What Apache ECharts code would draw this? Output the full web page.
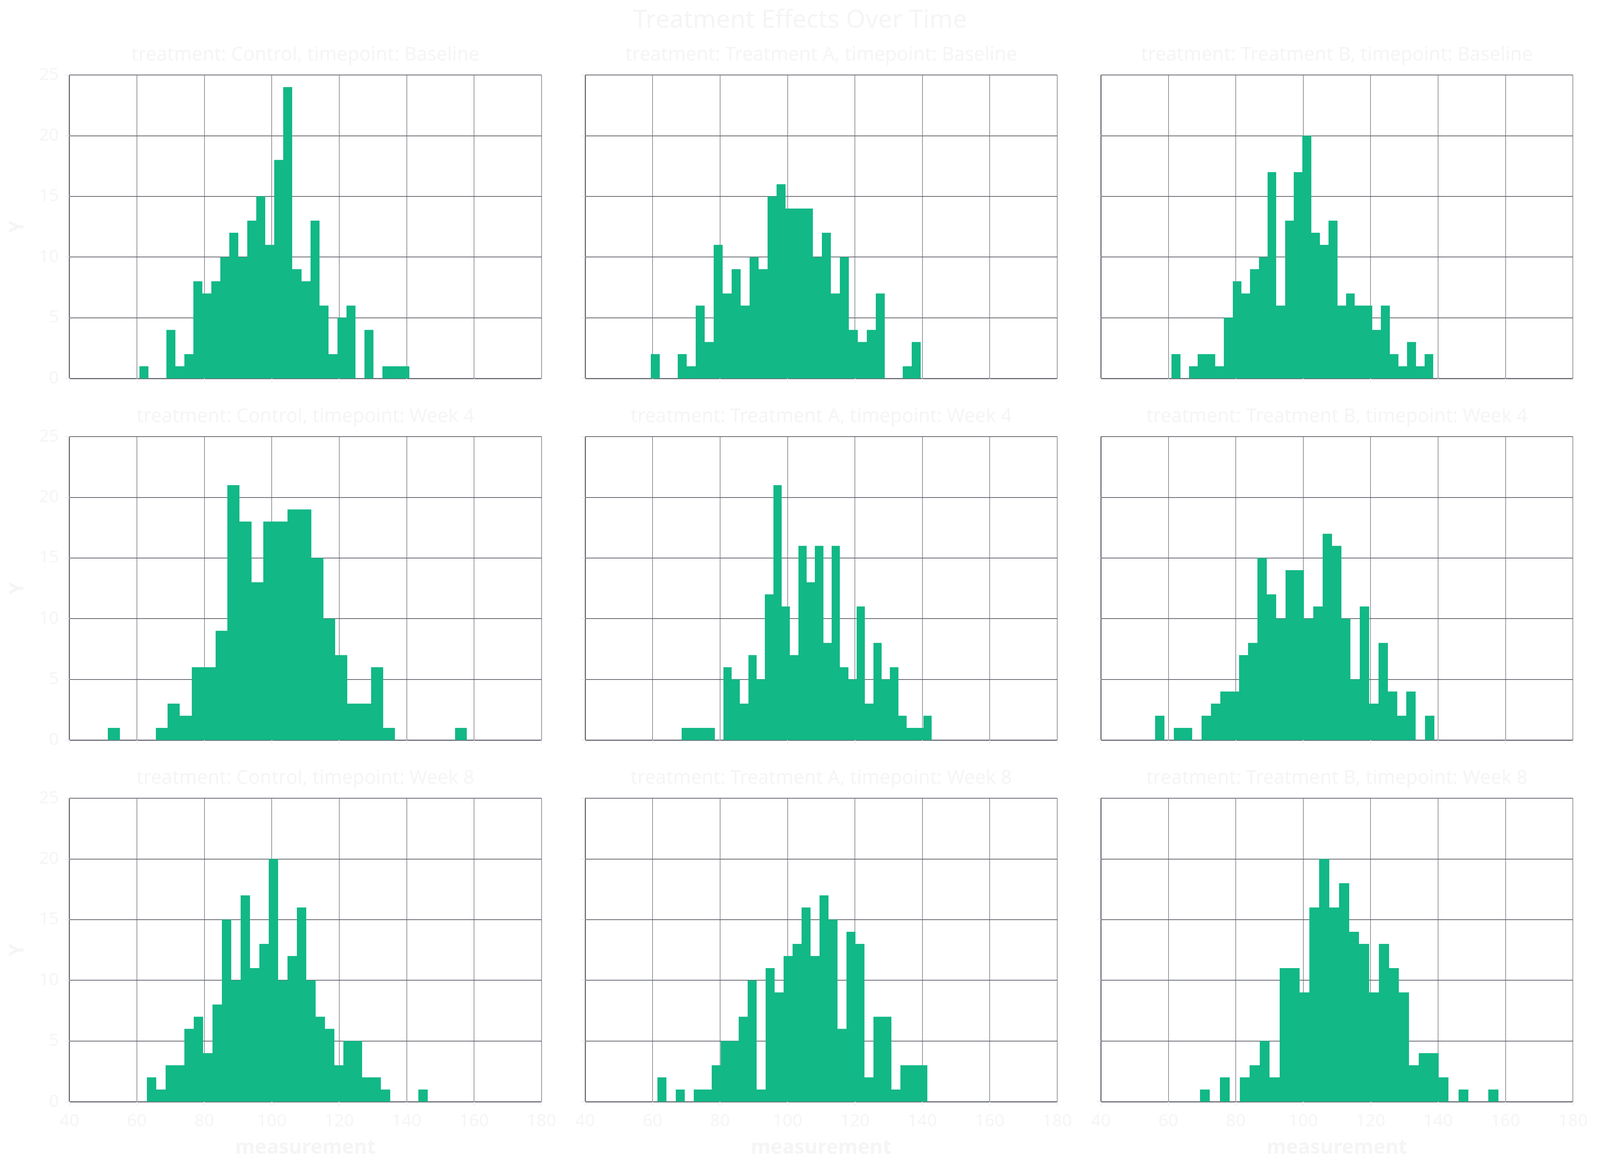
<!DOCTYPE html>
<html>
<head>
<meta charset="utf-8">
<title>Treatment Effects Over Time</title>
<script src="https://cdn.jsdelivr.net/npm/echarts@6/dist/echarts.min.js"></script>
<style>
    html, body { margin: 0; padding: 0; background: #ffffff; overflow: hidden; }
    #chart { width: 100vw; height: 100vh; }
</style>
</head>
<body>
<div id="chart"></div>
<script>
    // facets
    var treatments = ['Control', 'Treatment A', 'Treatment B'];
    var timepoints = ['Baseline', 'Week 4', 'Week 8'];

    // axis ticks
    var xMin = 40, xMax = 180, xStep = 20;
    var yMin = 0, yMax = 25, yStep = 5;

    // histogram counts, 30 bins per panel
    var controlBaseline = [1, 0, 0, 4, 1, 2, 8, 7, 8, 10, 12, 10, 13, 15, 11, 18, 24, 9, 8, 13, 6, 2, 5, 6, 0, 4, 0, 1, 1, 1];
    var controlWeek4 = [1, 0, 0, 0, 1, 3, 2, 6, 6, 9, 21, 18, 13, 18, 18, 19, 19, 15, 10, 7, 3, 3, 6, 1, 0, 0, 0, 0, 0, 1];
    var controlWeek8 = [2, 1, 3, 3, 6, 7, 4, 8, 15, 10, 17, 11, 13, 20, 10, 12, 16, 10, 7, 6, 3, 5, 5, 2, 2, 1, 0, 0, 0, 1];
    var treatABaseline = [2, 0, 0, 2, 1, 6, 3, 11, 7, 9, 6, 10, 9, 15, 16, 14, 14, 14, 10, 12, 7, 10, 4, 3, 4, 7, 0, 0, 1, 3];
    var treatAWeek4 = [1, 1, 1, 1, 0, 6, 5, 3, 7, 5, 12, 21, 11, 7, 16, 13, 16, 8, 16, 6, 5, 11, 3, 8, 5, 6, 2, 1, 1, 2];
    var treatAWeek8 = [2, 0, 1, 0, 1, 1, 3, 5, 5, 7, 10, 1, 11, 9, 12, 13, 16, 12, 17, 15, 6, 14, 13, 2, 7, 7, 1, 3, 3, 3];
    var treatBBaseline = [2, 0, 1, 2, 2, 1, 5, 8, 7, 9, 10, 17, 6, 13, 17, 20, 12, 11, 13, 6, 7, 6, 6, 4, 6, 2, 1, 3, 1, 2];
    var treatBWeek4 = [2, 0, 1, 1, 0, 2, 3, 4, 4, 7, 8, 15, 12, 10, 14, 14, 10, 11, 17, 16, 10, 5, 11, 3, 8, 4, 2, 4, 0, 2];
    var treatBWeek8 = [1, 0, 2, 0, 2, 3, 5, 2, 11, 11, 9, 16, 20, 16, 18, 14, 13, 9, 13, 11, 9, 3, 4, 4, 2, 0, 1, 0, 0, 1];

    // data range [min, max] covered by the bins of each panel
    var controlBaselineRange = [60.8, 140.8];
    var controlWeek4Range = [51.4, 157.9];
    var controlWeek8Range = [63.0, 146.3];
    var treatABaselineRange = [59.5, 139.5];
    var treatAWeek4Range = [68.6, 142.8];
    var treatAWeek8Range = [61.5, 141.5];
    var treatBBaselineRange = [61.0, 138.6];
    var treatBWeek4Range = [56.1, 138.9];
    var treatBWeek8Range = [69.4, 157.9];

    // [row = timepoint][col = treatment]
    var counts = [
        [controlBaseline, treatABaseline, treatBBaseline],
        [controlWeek4, treatAWeek4, treatBWeek4],
        [controlWeek8, treatAWeek8, treatBWeek8]
    ];
    var ranges = [
        [controlBaselineRange, treatABaselineRange, treatBBaselineRange],
        [controlWeek4Range, treatAWeek4Range, treatBWeek4Range],
        [controlWeek8Range, treatAWeek8Range, treatBWeek8Range]
    ];

    var textColor = '#f5f5f5';
    var lineColor = '#6E7079';
    var barColor = '#12b886';
    var font = 'Noto Sans';

    var el = document.getElementById('chart');
    var W = el.clientWidth, H = el.clientHeight;
    var sx = W / 4542, sy = H / 2996, fs = Math.min(sx, sy);

    // layout laid out on a 4542 x 2996 page, scaled to the real window
    var colLeft = [197, 1661, 3125];
    var rowTop = [192, 1118, 2044];
    var plotW = 1340, plotH = 777;

    function binData(c, r) {
        var w = (r[1] - r[0]) / c.length;
        var out = [];
        for (var i = 0; i < c.length; i++) {
            out.push([r[0] + i * w, r[0] + (i + 1) * w, c[i]]);
        }
        return out;
    }

    function renderBin(params, api) {
        if (!api.value(2)) return;
        var p0 = api.coord([api.value(0), api.value(2)]);
        var p1 = api.coord([api.value(1), 0]);
        var x0 = Math.round(p0[0]), x1 = Math.round(p1[0]);
        return {
            type: 'rect',
            shape: {x: x0, y: p0[1], width: x1 - x0, height: p1[1] - p0[1]},
            style: api.style()
        };
    }

    var titles = [{
        text: 'Treatment Effects Over Time',
        left: W / 2, top: 21 * sy, padding: 0,
        textAlign: 'center',
        textStyle: {fontSize: 71 * fs, fontWeight: 'normal', color: textColor, fontFamily: font}
    }];
    var grids = [], xAxes = [], yAxes = [], series = [];

    for (var row = 0; row < 3; row++) {
        for (var col = 0; col < 3; col++) {
            var idx = grids.length;
            titles.push({
                text: 'treatment: ' + treatments[col] + ', timepoint: ' + timepoints[row],
                left: (colLeft[col] + plotW / 2) * sx, top: (rowTop[row] - 75) * sy, padding: 0,
                textAlign: 'center',
                textStyle: {fontSize: 54 * fs, fontWeight: 'normal', color: textColor, fontFamily: font}
            });
            grids.push({left: colLeft[col] * sx, top: rowTop[row] * sy, width: plotW * sx, height: plotH * sy});
            xAxes.push({
                gridIndex: idx, type: 'value', min: xMin, max: xMax, interval: xStep,
                name: row === 2 ? 'measurement' : '',
                nameLocation: 'middle', nameGap: 93 * sy,
                nameTextStyle: {fontSize: 57 * fs, fontWeight: 'bold', color: textColor, fontFamily: font},
                axisLine: {show: true, onZero: false, lineStyle: {color: lineColor, width: 3}},
                axisTick: {show: true, length: 12 * fs, lineStyle: {color: '#eeeeee', width: 2}},
                axisLabel: {show: row === 2, margin: 28 * sy, fontSize: 49 * fs, color: textColor, fontFamily: font},
                splitLine: {show: true, lineStyle: {color: '#5f6168', width: 1.3}}
            });
            yAxes.push({
                gridIndex: idx, type: 'value', min: yMin, max: yMax, interval: yStep,
                name: col === 0 ? 'Y' : '',
                nameLocation: 'middle', nameRotate: 90, nameGap: 118 * sx,
                nameTextStyle: {fontSize: 57 * fs, fontWeight: 'bold', color: textColor, fontFamily: font},
                axisLine: {show: true, onZero: false, lineStyle: {color: lineColor, width: 3}},
                axisTick: {show: true, length: 12 * fs, lineStyle: {color: '#eeeeee', width: 2}},
                axisLabel: {show: col === 0, margin: 30 * sx, fontSize: 49 * fs, color: textColor, fontFamily: font},
                splitLine: {show: true, lineStyle: {color: '#666870', width: 2}}
            });
            series.push({
                type: 'custom',
                xAxisIndex: idx, yAxisIndex: idx,
                renderItem: renderBin,
                encode: {x: [0, 1], y: 2},
                itemStyle: {color: barColor},
                data: binData(counts[row][col], ranges[row][col])
            });
        }
    }

    var myChart = echarts.init(el);
    myChart.setOption({
        backgroundColor: '#ffffff',
        animation: false,
        title: titles,
        grid: grids,
        xAxis: xAxes,
        yAxis: yAxes,
        series: series
    });
</script>
</body>
</html>
